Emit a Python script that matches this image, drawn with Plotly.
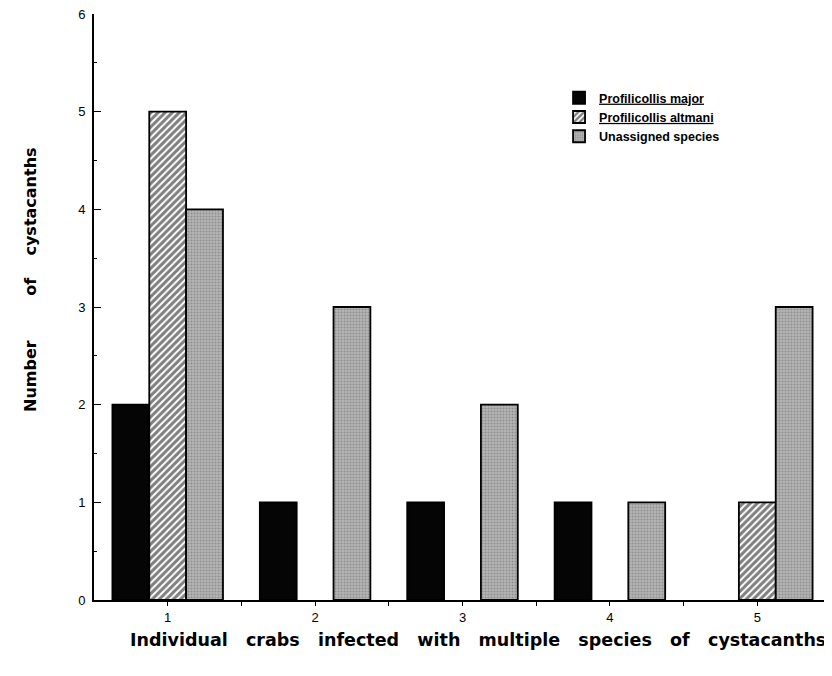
import plotly.graph_objects as go

crabs = [1, 2, 3, 4, 5]
major = [2, 1, 1, 1, 0]
altmani = [5, 0, 0, 0, 1]
unassigned = [4, 3, 2, 1, 3]
names = ["Profilicollis major", "Profilicollis altmani", "Unassigned species"]
y_ticks = [0, 1, 2, 3, 4, 5, 6]
x_title_words = ["Individual", "crabs", "infected", "with", "multiple", "species", "of", "cystacanths"]
y_title_words = ["Number", "of", "cystacanths"]

def nz(vals):
    return [v if v else None for v in vals]

NB = "\u00a0"
fig = go.Figure()
fig.add_trace(go.Bar(
    x=crabs, y=nz(major), name="<u>" + names[0] + "</u>",
    marker=dict(color="#050505", line=dict(color="black", width=1.8)),
))
fig.add_trace(go.Bar(
    x=crabs, y=nz(altmani), name="<u>" + names[1] + "</u>",
    marker=dict(color="white", line=dict(color="black", width=1.8),
                pattern=dict(shape="/", fgcolor="black", bgcolor="white", size=5, solidity=0.6)),
))
fig.add_trace(go.Bar(
    x=crabs, y=nz(unassigned), name=names[2],
    marker=dict(color="#ababab", line=dict(color="black", width=1.8),
                pattern=dict(shape=".", fgcolor="#6a6a6a", bgcolor="#b4b4b4", size=3, solidity=0.35)),
))

x_title = (NB * 2 + " ").join(x_title_words)
y_title = y_title_words[0] + NB * 8 + y_title_words[1] + NB * 4 + y_title_words[2]

fig.update_layout(
    width=832, height=676,
    margin=dict(l=86, r=9, t=6, b=84, autoexpand=False),
    paper_bgcolor="white", plot_bgcolor="white",
    barmode="group", bargap=0.25, bargroupgap=0,
    font=dict(family="Liberation Sans, Arial, sans-serif", color="black", size=12),
    showlegend=True,
    legend=dict(x=0.631, y=0.882, xanchor="left", yanchor="top",
                font=dict(size=12.5, family="Liberation Sans, Arial, sans-serif", weight="bold"),
                bgcolor="rgba(0,0,0,0)", itemwidth=30, tracegroupgap=0),
    xaxis=dict(range=[0.5, 5.5], tickvals=crabs, ticktext=[str(c) for c in crabs],
               showline=True, linecolor="black", linewidth=2, ticks="outside",
               ticklen=4, tickcolor="black", showgrid=False, zeroline=False,
               ticklabelstandoff=0, ticklabeloverflow="allow", automargin=False,
               minor=dict(tickvals=[1.5, 2.5, 3.5, 4.5], ticks="outside", ticklen=4, tickcolor="black"),
               tickfont=dict(size=13)),
    yaxis=dict(range=[0, 6], tickvals=y_ticks, showline=True, linecolor="black", linewidth=2,
               ticks="inside", ticklen=7, tickcolor="black", showgrid=False, zeroline=False,
               ticklabelstandoff=4, ticklabeloverflow="allow", automargin=False,
               minor=dict(dtick=0.5, ticks="inside", ticklen=3, tickcolor="black"),
               tickfont=dict(size=13)),
    annotations=[
        dict(text=x_title,
             xref="paper", yref="paper", x=(128 - 94) / 737, y=-(640 - 600) / 586,
             xanchor="left", yanchor="middle", showarrow=False,
             font=dict(size=17.5, family="DejaVu Sans, sans-serif", weight="bold")),
        dict(text=y_title,
             xref="paper", yref="paper", x=-(94 - 30) / 737, y=(600 - 280) / 586,
             xanchor="center", yanchor="middle", showarrow=False, textangle=-90,
             font=dict(size=16, family="DejaVu Sans, sans-serif", weight="bold")),
    ],
)

fig.write_html("out.html")
